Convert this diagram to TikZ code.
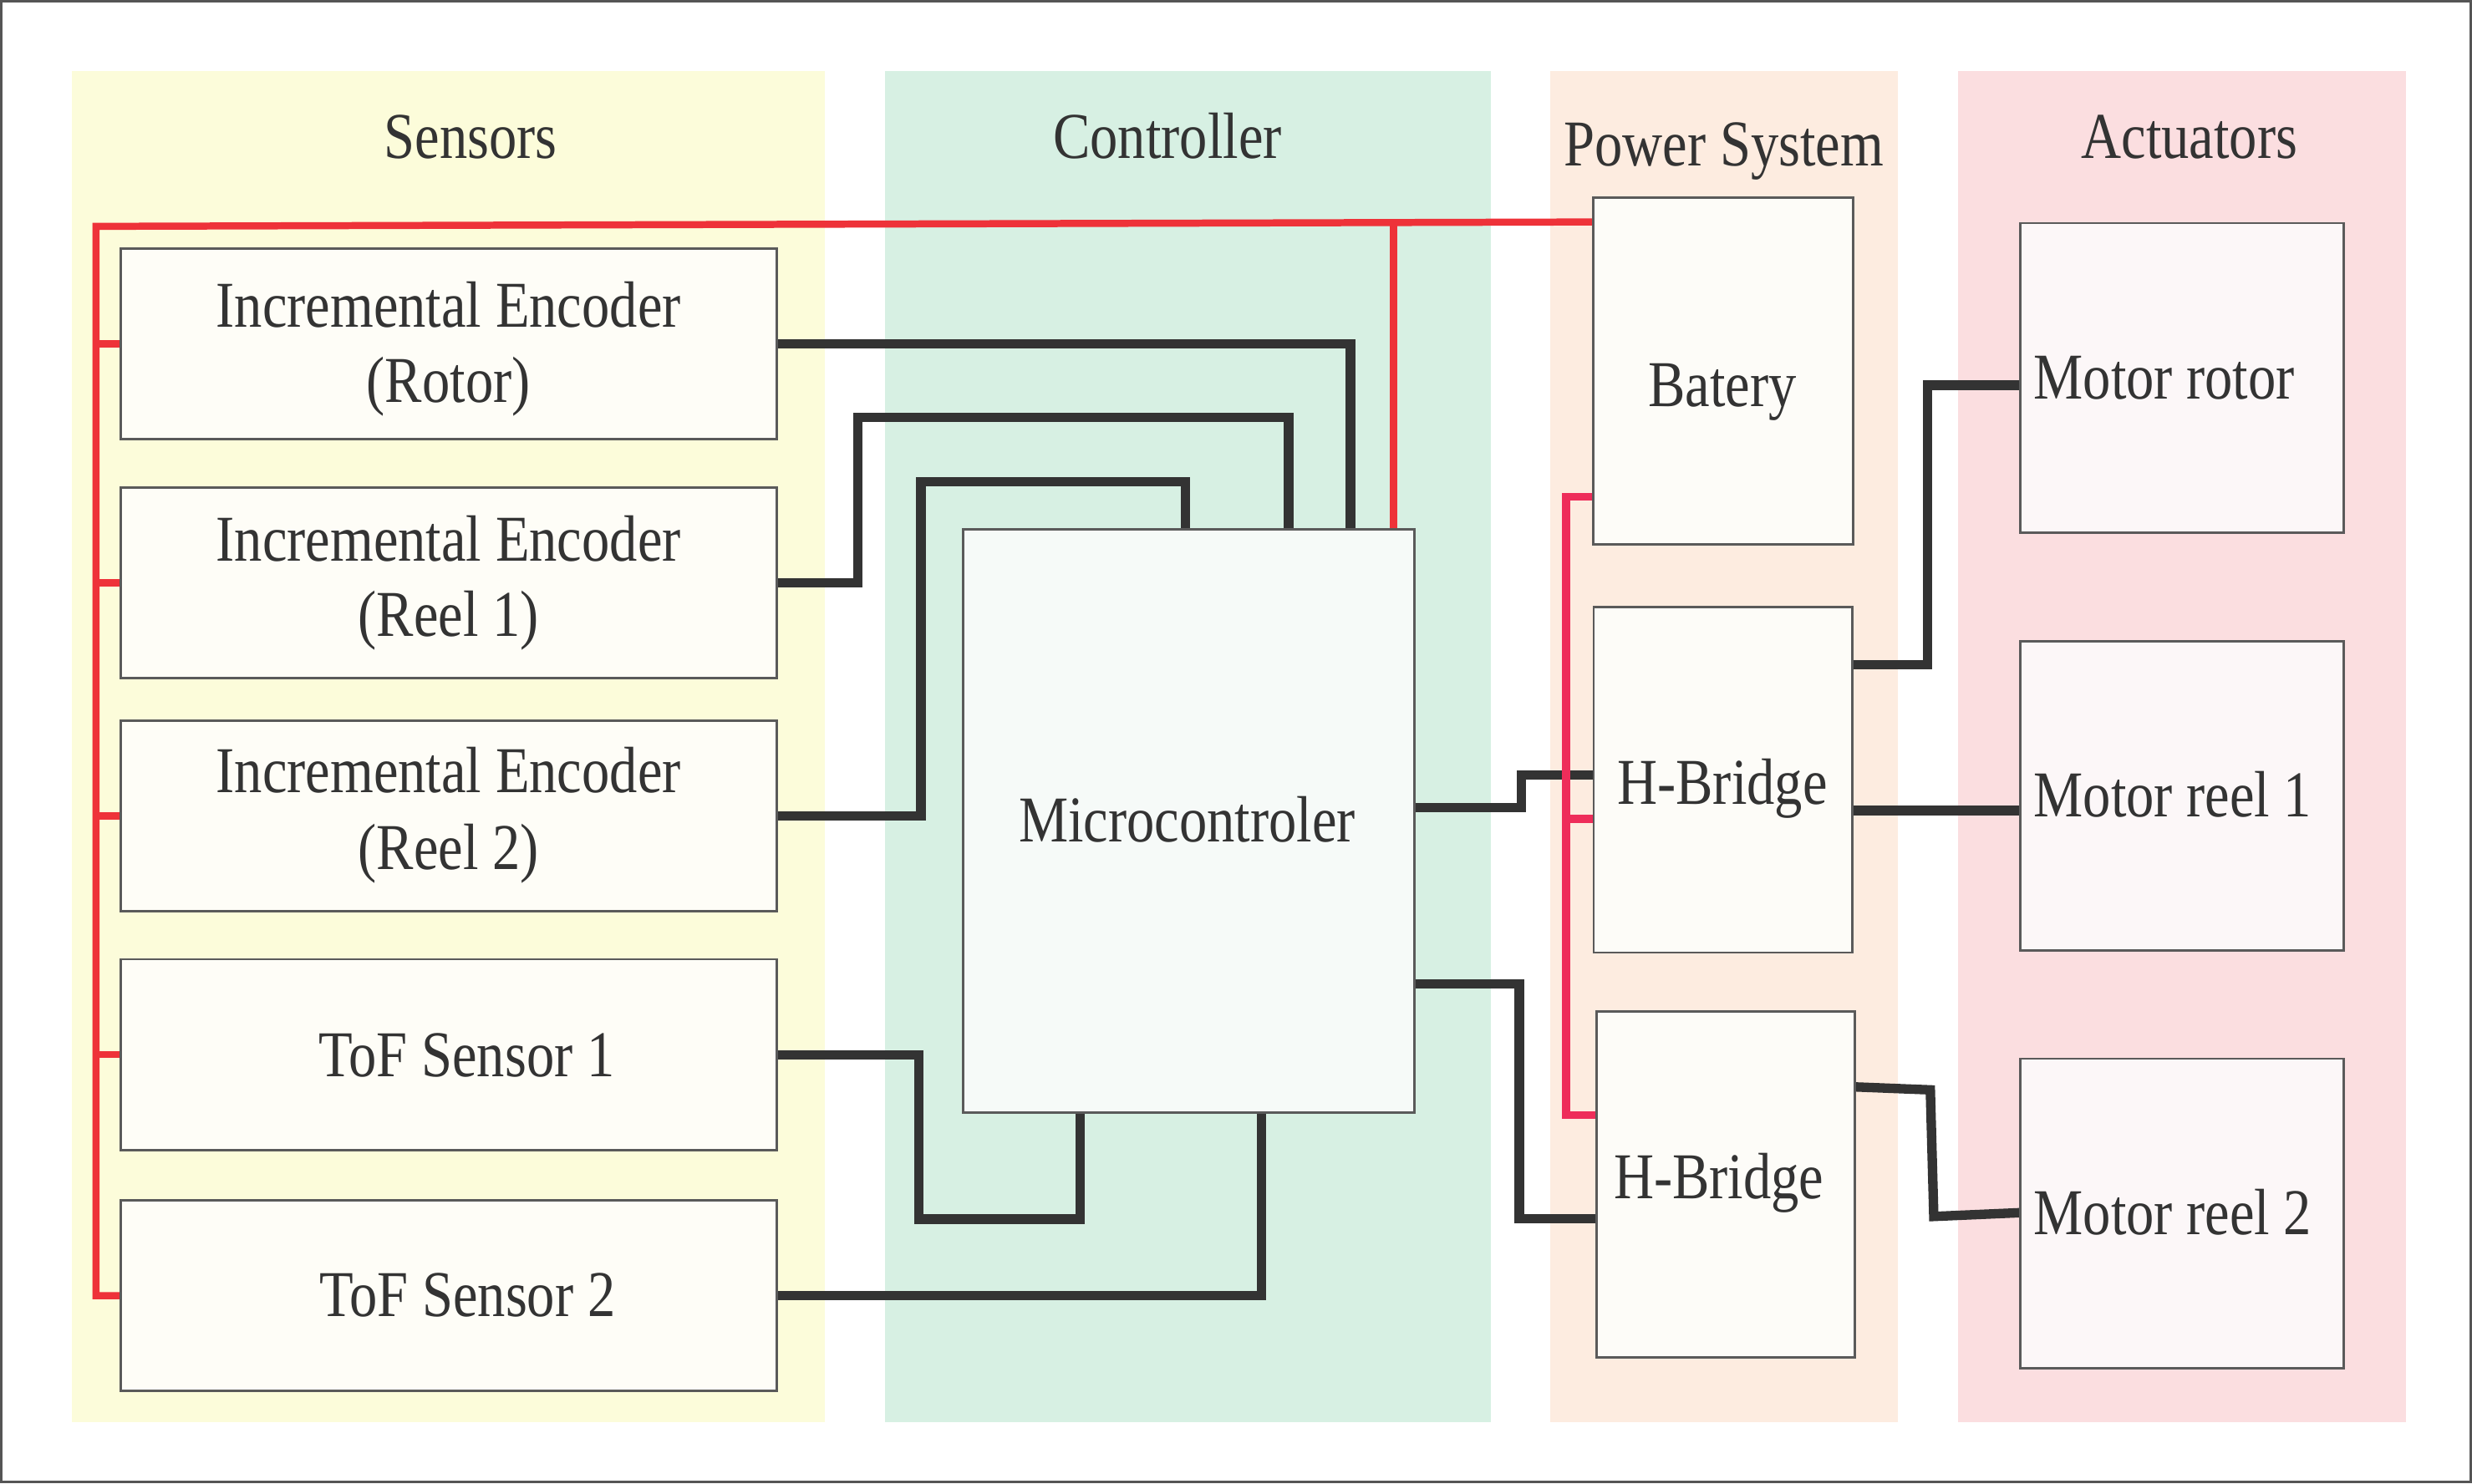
\documentclass[tikz,border=0pt]{standalone}
\usepackage{fontspec}
\setmainfont{Liberation Serif}[FakeStretch=0.85]
\usetikzlibrary{calc}
\definecolor{frameC}{HTML}{555555}
\definecolor{sensP}{HTML}{FCFCDA}
\definecolor{ctrlP}{HTML}{D7F0E3}
\definecolor{powP}{HTML}{FDECE0}
\definecolor{actP}{HTML}{FBDEE0}
\definecolor{sensB}{HTML}{FEFDF7}
\definecolor{ctrlB}{HTML}{F6FAF8}
\definecolor{powB}{HTML}{FDFCF8}
\definecolor{actB}{HTML}{FCF7F8}
\definecolor{boxLine}{HTML}{5A5A5A}
\definecolor{txtC}{HTML}{333333}
\definecolor{sigC}{HTML}{333333}
\definecolor{redC}{HTML}{EE3239}
\definecolor{pinkC}{HTML}{EE2D5A}
\begin{document}
\begin{tikzpicture}[x=1pt,y=-1pt,
  blockbox/.style={draw=boxLine, line width=1.5pt, inner sep=0pt, outer sep=0pt, rectangle},
  sensbox/.style={blockbox, fill=sensB, minimum width=415.8pt, minimum height=121pt},
  ctrlbox/.style={blockbox, fill=ctrlB},
  powbox/.style={blockbox, fill=powB},
  actbox/.style={blockbox, fill=actB, minimum width=205.3pt},
  lbl/.style={inner sep=0pt, outer sep=0pt, anchor=base, text=txtC, font=\fontsize{41.5}{47.5}\selectfont},
  lblw/.style={lbl, anchor=base west},
  sig/.style={draw=sigC, line width=6pt, line join=miter},
  pwr/.style={draw=redC, line width=4.5pt, line join=miter},
  pwrb/.style={draw=pinkC, line width=5pt, line join=miter}
]
\useasboundingbox (0,0) rectangle (1568,941.4);
\fill[white] (0,0) rectangle (1568,941.4);
% panels
\fill[sensP] (45.5,45) rectangle (523.3,902);
\fill[ctrlP] (561.3,45) rectangle (945.7,902);
\fill[powP] (983.5,45) rectangle (1203.9,902);
\fill[actP] (1241.9,45) rectangle (1526.2,902);
\draw[frameC, line width=1.5pt] (1,1) rectangle (1567,940.2);
% titles
\node[lbl] (tSens) at (298.5,100.5) {Sensors};
\node[lbl] (tCtrl) at (740.5,100.6) {Controller};
\node[lbl] (tPow) at (1093.5,105.2) {Power System};
\node[lbl] (tAct) at (1388.7,100.4) {Actuators};
% boxes
\node[sensbox] (enc1) at (284.6,218.25) {};
\node[sensbox] (enc2) at (284.6,369.75) {};
\node[sensbox] (enc3) at (284.6,517.55) {};
\node[sensbox] (tof1) at (284.6,669.05) {};
\node[sensbox] (tof2) at (284.6,821.9) {};
\node[ctrlbox, minimum width=286.2pt, minimum height=370.2pt] (mc) at (753.9,520.7) {};
\node[powbox, minimum width=164.5pt, minimum height=219.9pt] (bat) at (1093.05,235.45) {};
\node[powbox, minimum width=164.1pt, minimum height=219.3pt] (hb1) at (1092.95,494.65) {};
\node[powbox, minimum width=163.7pt, minimum height=219.2pt] (hb2) at (1094.45,751.4) {};
\node[actbox, minimum height=196.3pt] (mrot) at (1383.95,239.65) {};
\node[actbox, minimum height=196pt] (mr1) at (1384.1,505) {};
\node[actbox, minimum height=196.6pt] (mr2) at (1384.1,769.9) {};
% signal lines
\draw[sig] (enc1.east) -| (856.6,0 |- mc.north);
\draw[sig] (enc2.east) -- (544,369.75) -- (544,264.6) -- (817.4,264.6) -- (817.4,0 |- mc.north);
\draw[sig] (enc3.east) -- (584.1,517.55) -- (584.1,305.7) -- (751.9,305.7) -- (751.9,0 |- mc.north);
\draw[sig] (tof1.east) -- (583,669.05) -- (583,773.4) -- (685.2,773.4) -- (685.2,0 |- mc.south);
\draw[sig] (tof2.east) -| (800.2,0 |- mc.south);
\draw[sig] (mc.east |- 0,512.2) -- (965,512.2) -- (965,491.6) -- (hb1.west |- 0,491.6);
\draw[sig] (mc.east |- 0,624) -- (963.7,624) -- (963.7,773.3) -- (hb2.west |- 0,773.3);
\draw[sig] (hb1.east |- 0,421.8) -- (1222.7,421.8) -- (1222.7,244.4) -- (mrot.west |- 0,244.4);
\draw[sig] (hb1.east |- 0,514.2) -- (mr1.west |- 0,514.2);
\draw[sig] (hb2.east |- 0,689.5) -- (1224.4,691.4) -- (1226.6,771.7) -- (mr2.west |- 0,769.3);
% power lines
\draw[pwr] (tof2.west) -- (60.9,821.9) -- (60.9,143.6) -- (bat.west |- 0,140.8);
\draw[pwr] (60.9,0 |- enc1.west) -- (enc1.west);
\draw[pwr] (60.9,0 |- enc2.west) -- (enc2.west);
\draw[pwr] (60.9,0 |- enc3.west) -- (enc3.west);
\draw[pwr] (60.9,0 |- tof1.west) -- (tof1.west);
\draw[pwr] (884,141.2) -- (884,0 |- mc.north);
\draw[pwrb] (bat.west |- 0,315) -- (993.3,315) -- (993.3,707.3) -- (hb2.west |- 0,707.3);
\draw[pwrb] (993.3,519.5) -- (hb1.west |- 0,519.5);
% redraw box borders on top
\foreach \b in {enc1,enc2,enc3,tof1,tof2,mc,bat,hb1,hb2,mrot,mr1,mr2}
  \draw[boxLine, line width=1.5pt] (\b.north west) rectangle (\b.south east);
% labels
\node[lbl] (l1a) at (284.5,207.3) {Incremental Encoder};
\node[lbl] (l1b) at (284.5,255) {(Rotor)};
\node[lbl] (l2a) at (284.5,356.2) {Incremental Encoder};
\node[lbl] (l2b) at (284.5,403.5) {(Reel 1)};
\node[lbl] (l3a) at (284.5,502.9) {Incremental Encoder};
\node[lbl] (l3b) at (284.5,551.3) {(Reel 2)};
\node[lbl] (l4) at (296,683.2) {ToF Sensor 1};
\node[lbl] (l5) at (296.5,835.1) {ToF Sensor 2};
\node[lbl] (l6) at (753,534.3) {Microcontroler};
\node[lbl] (l7) at (1092.5,258) {Batery};
\node[lbl] (l8) at (1092.5,510) {H-Bridge};
\node[lbl] (l9) at (1090.3,760.5) {H-Bridge};
\node[lblw] (l10) at (1290,253.2) {Motor rotor};
\node[lblw] (l11) at (1290,517.9) {Motor reel 1};
\node[lblw] (l12) at (1290,783) {Motor reel 2};
\end{tikzpicture}
\end{document}
